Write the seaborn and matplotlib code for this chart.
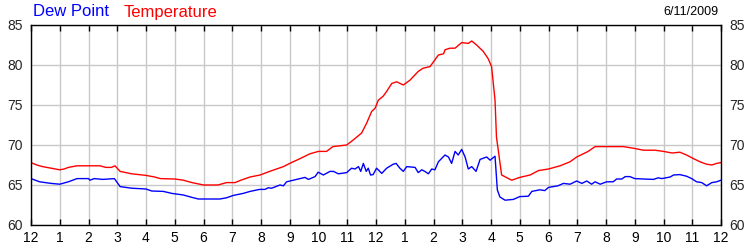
import matplotlib
matplotlib.use("Agg")
import matplotlib.pyplot as plt
import seaborn as sns
import pandas as pd

temp_hours = [0, 0.2, 0.4, 0.7, 1.0, 1.15, 1.3, 1.6, 2.0, 2.4, 2.6, 2.8, 2.92, 3.1, 3.5, 4.0,
              4.3, 4.5, 5.0, 5.3, 5.6, 6.0, 6.5, 6.8, 7.1, 7.3, 7.62, 7.97, 8.3, 8.78, 9.0,
              9.36, 9.7, 10.0, 10.28, 10.5, 10.98, 11.2, 11.5, 11.67, 11.85, 11.97, 12.08,
              12.25, 12.37, 12.55, 12.72, 12.95, 13.18, 13.47, 13.64, 13.88, 14.0, 14.17,
              14.35, 14.4, 14.57, 14.75, 14.98, 15.21, 15.33, 15.5, 15.73, 15.9, 16.02,
              16.14, 16.19, 16.37, 16.72, 17.0, 17.36, 17.65, 18.0, 18.4, 18.75, 18.98,
              19.38, 19.62, 20.0, 20.6, 20.95, 21.3, 21.7, 22.0, 22.3, 22.57, 22.8, 23.04,
              23.27, 23.5, 23.68, 23.85, 24.0]
temp_values = [67.8, 67.5, 67.3, 67.1, 66.9, 67.0, 67.2, 67.4, 67.4, 67.4, 67.2, 67.2, 67.4,
               66.7, 66.4, 66.2, 66.0, 65.8, 65.75, 65.6, 65.3, 65.0, 65.0, 65.3, 65.3, 65.6,
               66.0, 66.25, 66.7, 67.3, 67.7, 68.3, 68.9, 69.2, 69.2, 69.8, 70.0, 70.6, 71.5,
               72.7, 74.2, 74.6, 75.6, 76.1, 76.7, 77.7, 77.9, 77.5, 78.1, 79.2, 79.6, 79.8,
               80.4, 81.25, 81.4, 81.9, 82.1, 82.1, 82.8, 82.7, 83.0, 82.5, 81.7, 80.8, 79.8,
               75.6, 71.0, 66.25, 65.6, 65.95, 66.25, 66.8, 67.0, 67.4, 67.9, 68.5, 69.2,
               69.8, 69.8, 69.8, 69.6, 69.35, 69.35, 69.2, 69.0, 69.1, 68.75, 68.3, 67.9,
               67.6, 67.5, 67.7, 67.8]

dew_hours = [0, 0.3, 0.7, 1.0, 1.3, 1.6, 2.0, 2.05, 2.2, 2.5, 2.9, 3.1, 3.5, 4.0, 4.2, 4.6,
             4.9, 5.3, 5.6, 5.82, 6.57, 6.8, 7.04, 7.38, 7.62, 7.95, 8.14, 8.25, 8.37, 8.66,
             8.78, 8.89, 9.24, 9.53, 9.65, 9.88, 9.99, 10.17, 10.4, 10.52, 10.69, 10.98,
             11.15, 11.27, 11.39, 11.47, 11.56, 11.66, 11.73, 11.81, 11.9, 12.02, 12.2,
             12.37, 12.6, 12.7, 12.83, 12.95, 13.07, 13.36, 13.47, 13.59, 13.7, 13.82,
             13.94, 14.05, 14.17, 14.4, 14.52, 14.63, 14.75, 14.86, 14.98, 15.1, 15.21,
             15.33, 15.48, 15.62, 15.85, 15.97, 16.14, 16.22, 16.31, 16.49, 16.78, 17.0,
             17.3, 17.42, 17.7, 17.87, 18.0, 18.33, 18.52, 18.75, 18.98, 19.16, 19.33,
             19.5, 19.62, 19.8, 20.02, 20.25, 20.37, 20.55, 20.67, 20.83, 21.0, 21.3,
             21.65, 21.82, 21.94, 22.23, 22.35, 22.57, 22.8, 22.98, 23.15, 23.33, 23.5,
             23.68, 23.85, 24.0]
dew_values = [65.8, 65.4, 65.2, 65.1, 65.4, 65.8, 65.8, 65.6, 65.8, 65.7, 65.8, 64.8, 64.6,
              64.5, 64.25, 64.2, 63.95, 63.75, 63.45, 63.25, 63.25, 63.4, 63.7, 63.95, 64.2,
              64.45, 64.45, 64.65, 64.6, 65.0, 64.9, 65.4, 65.7, 65.95, 65.7, 66.05, 66.6,
              66.25, 66.7, 66.7, 66.4, 66.55, 67.1, 67.0, 67.3, 66.7, 67.7, 66.7, 67.1,
              66.25, 66.3, 67.1, 66.45, 67.1, 67.6, 67.7, 67.1, 66.7, 67.3, 67.2, 66.55,
              66.9, 66.7, 66.4, 67.0, 66.9, 67.9, 68.75, 68.5, 67.7, 69.2, 68.75, 69.45,
              68.5, 67.0, 67.3, 66.7, 68.2, 68.5, 68.1, 68.6, 64.4, 63.5, 63.1, 63.2, 63.55,
              63.6, 64.2, 64.4, 64.3, 64.7, 64.9, 65.2, 65.1, 65.5, 65.2, 65.5, 65.1, 65.4,
              65.1, 65.4, 65.4, 65.75, 65.75, 66.05, 66.05, 65.8, 65.75, 65.7, 65.9, 65.8,
              66.0, 66.25, 66.3, 66.1, 65.8, 65.4, 65.3, 64.9, 65.3, 65.4, 65.6]

x_tick_labels = ["12", "1", "2", "3", "4", "5", "6", "7", "8", "9", "10", "11",
                 "12", "1", "2", "3", "4", "5", "6", "7", "8", "9", "10", "11", "12"]
y_ticks = [60, 65, 70, 75, 80, 85]
date_label = "6/11/2009"

df = pd.concat([
    pd.DataFrame({"hour": temp_hours, "value": temp_values, "series": "Temperature"}),
    pd.DataFrame({"hour": dew_hours, "value": dew_values, "series": "Dew Point"}),
])

sns.set_style("white")
plt.rcParams["font.family"] = ["Liberation Sans", "DejaVu Sans"]

fig = plt.figure(figsize=(7.5, 2.5), dpi=100)
ax = fig.add_axes([31 / 750, 0.1, 690 / 750, 0.8])

sns.lineplot(data=df, x="hour", y="value", hue="series",
             palette={"Temperature": "#ff0000", "Dew Point": "#0000ff"},
             estimator=None, sort=True, legend=False, linewidth=1.0, ax=ax)

ax.set_xlim(0, 24)
ax.set_ylim(60, 85)
ax.set_xticks(range(25))
ax.set_xticklabels(x_tick_labels)
ax.set_yticks(y_ticks)
ax.set_xlabel("")
ax.set_ylabel("")
ax.grid(True, color="#c8c8c8", linewidth=1.0)
ax.set_axisbelow(True)
for s in ax.spines.values():
    s.set_color("black")
    s.set_linewidth(1.0)
    s.set_visible(True)

ax.tick_params(axis="x", which="both", direction="in", length=4, width=1,
               top=True, bottom=True, labelsize=10, pad=4, colors="black")
ax.tick_params(axis="y", which="both", length=0, left=False, right=False,
               labelleft=True, labelright=True, labelsize=10, pad=6)

fig.text(33 / 750, 0.952, "Dew Point", color="#0000ff", fontsize=12,
         ha="left", va="center")
fig.text(124 / 750, 0.952, "Temperature", color="#ff0000", fontsize=12,
         ha="left", va="center")
fig.text(719 / 750, 0.952, date_label, color="black", fontsize=9,
         ha="right", va="center")

fig.savefig("out.png", dpi=100)
